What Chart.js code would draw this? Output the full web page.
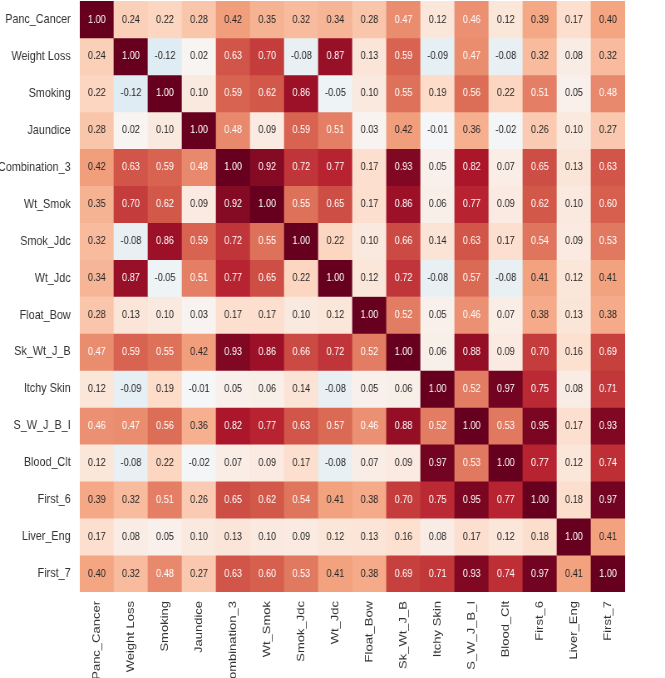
<!DOCTYPE html>
<html>
<head>
<meta charset="utf-8">
<script src="https://cdn.jsdelivr.net/npm/chart.js@4/dist/chart.umd.min.js"></script>
<style>
  html, body { margin: 0; padding: 0; background: #fff; overflow: hidden; }
</style>
</head>
<body>
<canvas id="heatmap" width="800" height="678" style="width:665px;height:678px"></canvas>
<script>
// variable names (rows top to bottom, columns left to right)
const names = ['Panc_Cancer', 'Weight Loss', 'Smoking', 'Jaundice', 'Combination_3', 'Wt_Smok',
  'Smok_Jdc', 'Wt_Jdc', 'Float_Bow', 'Sk_Wt_J_B', 'Itchy Skin', 'S_W_J_B_I', 'Blood_Clt',
  'First_6', 'Liver_Eng', 'First_7'];

// correlation matrix, one row per variable
const corr = [
  [1.00, 0.24, 0.22, 0.28, 0.42, 0.35, 0.32, 0.34, 0.28, 0.47, 0.12, 0.46, 0.12, 0.39, 0.17, 0.40],
  [0.24, 1.00, -0.12, 0.02, 0.63, 0.70, -0.08, 0.87, 0.13, 0.59, -0.09, 0.47, -0.08, 0.32, 0.08, 0.32],
  [0.22, -0.12, 1.00, 0.10, 0.59, 0.62, 0.86, -0.05, 0.10, 0.55, 0.19, 0.56, 0.22, 0.51, 0.05, 0.48],
  [0.28, 0.02, 0.10, 1.00, 0.48, 0.09, 0.59, 0.51, 0.03, 0.42, -0.01, 0.36, -0.02, 0.26, 0.10, 0.27],
  [0.42, 0.63, 0.59, 0.48, 1.00, 0.92, 0.72, 0.77, 0.17, 0.93, 0.05, 0.82, 0.07, 0.65, 0.13, 0.63],
  [0.35, 0.70, 0.62, 0.09, 0.92, 1.00, 0.55, 0.65, 0.17, 0.86, 0.06, 0.77, 0.09, 0.62, 0.10, 0.60],
  [0.32, -0.08, 0.86, 0.59, 0.72, 0.55, 1.00, 0.22, 0.10, 0.66, 0.14, 0.63, 0.17, 0.54, 0.09, 0.53],
  [0.34, 0.87, -0.05, 0.51, 0.77, 0.65, 0.22, 1.00, 0.12, 0.72, -0.08, 0.57, -0.08, 0.41, 0.12, 0.41],
  [0.28, 0.13, 0.10, 0.03, 0.17, 0.17, 0.10, 0.12, 1.00, 0.52, 0.05, 0.46, 0.07, 0.38, 0.13, 0.38],
  [0.47, 0.59, 0.55, 0.42, 0.93, 0.86, 0.66, 0.72, 0.52, 1.00, 0.06, 0.88, 0.09, 0.70, 0.16, 0.69],
  [0.12, -0.09, 0.19, -0.01, 0.05, 0.06, 0.14, -0.08, 0.05, 0.06, 1.00, 0.52, 0.97, 0.75, 0.08, 0.71],
  [0.46, 0.47, 0.56, 0.36, 0.82, 0.77, 0.63, 0.57, 0.46, 0.88, 0.52, 1.00, 0.53, 0.95, 0.17, 0.93],
  [0.12, -0.08, 0.22, -0.02, 0.07, 0.09, 0.17, -0.08, 0.07, 0.09, 0.97, 0.53, 1.00, 0.77, 0.12, 0.74],
  [0.39, 0.32, 0.51, 0.26, 0.65, 0.62, 0.54, 0.41, 0.38, 0.70, 0.75, 0.95, 0.77, 1.00, 0.18, 0.97],
  [0.17, 0.08, 0.05, 0.10, 0.13, 0.10, 0.09, 0.12, 0.13, 0.16, 0.08, 0.17, 0.12, 0.18, 1.00, 0.41],
  [0.40, 0.32, 0.48, 0.27, 0.63, 0.60, 0.53, 0.41, 0.38, 0.69, 0.71, 0.93, 0.74, 0.97, 0.41, 1.00]
];

// RdBu_r colour stops, -1 -> 1
const stops = ['#053061', '#2166ac', '#4393c3', '#92c5de', '#d1e5f0', '#f7f7f7',
  '#fddbc7', '#f4a582', '#d6604d', '#b2182b', '#67001f'];

function hexRgb(h) {
  return [parseInt(h.slice(1, 3), 16), parseInt(h.slice(3, 5), 16), parseInt(h.slice(5, 7), 16)];
}

function cellRgb(v) {
  const t = Math.max(0, Math.min(1, (v + 1) / 2)) * (stops.length - 1);
  const i = Math.min(Math.floor(t), stops.length - 2);
  const f = t - i;
  const a = hexRgb(stops[i]), b = hexRgb(stops[i + 1]);
  return a.map((c, k) => Math.round(c + (b[k] - c) * f));
}

function luminance(rgb) {
  const lin = rgb.map(c => {
    c = c / 255;
    return c <= 0.03928 ? c / 12.92 : Math.pow((c + 0.055) / 1.055, 2.4);
  });
  return 0.2126 * lin[0] + 0.7152 * lin[1] + 0.0722 * lin[2];
}

// one stacked dataset per row, each cell is one unit tall
const datasets = corr.map((row, r) => ({
  label: names[r],
  data: row.map(() => 1),
  backgroundColor: row.map(v => 'rgb(' + cellRgb(v).join(',') + ')'),
  borderWidth: 0,
  barPercentage: 1,
  categoryPercentage: 1
}));

// write the value in each cell
const cellText = {
  id: 'cellText',
  afterDatasetsDraw(chart) {
    const ctx = chart.ctx;
    ctx.save();
    ctx.font = '11px "Liberation Sans", Arial, sans-serif';
    ctx.textAlign = 'center';
    ctx.textBaseline = 'middle';
    chart.data.datasets.forEach((ds, r) => {
      chart.getDatasetMeta(r).data.forEach((el, c) => {
        const v = corr[r][c];
        ctx.fillStyle = luminance(cellRgb(v)) < 0.408 ? '#ffffff' : '#262626';
        ctx.fillText(v.toFixed(2), el.x, (el.y + el.base) / 2);
      });
    });
    ctx.restore();
  }
};

new Chart(document.getElementById('heatmap'), {
  type: 'bar',
  data: { labels: names, datasets: datasets },
  options: {
    responsive: false,
    devicePixelRatio: 1,
    animation: false,
    layout: { padding: { top: 1, right: 48, left: 0, bottom: 0 } },
    plugins: { legend: { display: false }, tooltip: { enabled: false } },
    scales: {
      x: {
        stacked: true,
        grid: { display: false, drawTicks: false },
        border: { display: false },
        ticks: {
          autoSkip: false,
          minRotation: 90,
          maxRotation: 90,
          padding: 9,
          color: '#333',
          font: { family: '"Liberation Sans", Arial, sans-serif', size: 13 }
        },
        afterFit(scale) { scale.height = 86; }
      },
      y: {
        stacked: true,
        reverse: true,
        min: 0,
        max: names.length,
        grid: { display: false, drawTicks: false },
        border: { display: false },
        afterBuildTicks(scale) {
          scale.ticks = names.map((n, i) => ({ value: i + 0.5 }));
        },
        ticks: {
          autoSkip: false,
          padding: 11,
          color: '#333',
          font: { family: '"Liberation Sans", Arial, sans-serif', size: 13 },
          callback: v => names[Math.floor(v)]
        },
        afterFit(scale) {
          scale.width = 96;
          scale.paddingTop = 0;
          scale.paddingBottom = 0;
        }
      }
    }
  },
  plugins: [cellText]
});
</script>
</body>
</html>
